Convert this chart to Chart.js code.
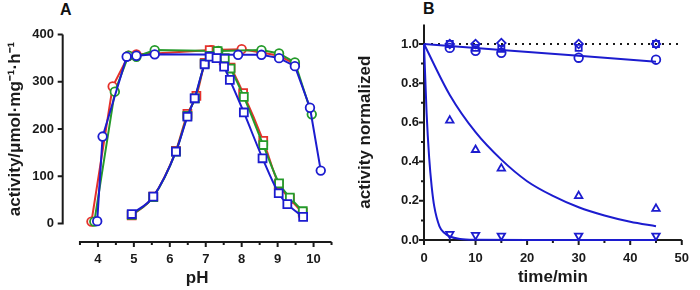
<!DOCTYPE html>
<html>
<head>
<meta charset="utf-8">
<script src="https://cdn.jsdelivr.net/npm/chart.js@4.4.1/dist/chart.umd.min.js"></script>
<style>
  body { margin: 0; background: #fff; width: 700px; height: 290px; position: relative; overflow: hidden;
         font-family: "Liberation Sans", Arial, Helvetica, sans-serif; }
  canvas { position: absolute; top: 0; }
  #chartA { left: 0; }
  #chartB { left: 350px; }
  .panel { position: absolute; font-weight: bold; font-size: 16px; line-height: 16px; color: #111; }
</style>
</head>
<body>
<div class="panel" style="left:60px;top:2px">A</div>
<div class="panel" style="left:423px;top:1px">B</div>
<canvas id="chartA" width="350" height="290"></canvas>
<canvas id="chartB" width="350" height="290"></canvas>
<script>
// ---- panel A: pH profiles ----
const pHTicks = [4, 5, 6, 7, 8, 9, 10];
const actTicks = [0, 100, 200, 300, 400];

const pHRedCircle   = [3.82, 4.41, 4.85, 5.07, 5.58, 7.15, 8.0, 8.55, 9.04, 9.48];
const actRedCircle  = [4, 290, 355, 358, 360, 367, 369, 362, 355, 338];
const pHGreenCircle  = [3.9, 4.47, 4.85, 5.07, 5.58, 7.35, 8.55, 9.04, 9.48, 9.95];
const actGreenCircle = [4, 279, 355, 353, 367, 365, 367, 360, 341, 231];
const pHBlueCircle  = [3.98, 4.13, 4.8, 5.07, 5.58, 7.9, 8.55, 9.04, 9.48, 9.9, 10.2];
const actBlueCircle = [5, 184, 353, 355, 358, 357, 357, 350, 333, 245, 112];

const pHRedSquare   = [4.94, 5.54, 6.17, 6.49, 6.74, 6.97, 7.11, 7.3, 7.5, 7.69, 8.04, 8.6, 9.03, 9.34, 9.7];
const actRedSquare  = [17, 57, 154, 232, 270, 340, 367, 363, 345, 330, 276, 175, 83, 52, 23];
const pHGreenSquare  = [4.94, 5.54, 6.17, 6.49, 6.7, 6.97, 7.11, 7.33, 7.53, 7.69, 8.06, 8.6, 9.04, 9.34, 9.7];
const actGreenSquare = [18, 56, 152, 228, 265, 338, 355, 365, 350, 328, 268, 166, 85, 55, 26];
const pHBlueSquare  = [4.94, 5.54, 6.17, 6.49, 6.69, 6.97, 7.11, 7.3, 7.51, 7.67, 8.06, 8.58, 9.03, 9.27, 9.71];
const actBlueSquare = [20, 57, 152, 226, 265, 337, 353, 350, 332, 304, 235, 138, 64, 41, 14];

// ---- panel B: stability over time ----
const timeTicks = [0, 10, 20, 30, 40, 50];
const normTicks = [0, 0.2, 0.4, 0.6, 0.8, 1.0];
const timePoints = [5, 10, 15, 30, 45];
const normCircle   = [0.98, 0.965, 0.955, 0.93, 0.92];
const normSquare   = [1.0, 0.98, 0.975, 0.98, 1.0];
const normDiamond  = [1.0, 1.0, 1.005, 1.0, 1.0];
const normTriUp    = [0.61, 0.46, 0.365, 0.225, 0.16];
const normTriDown  = [0.03, 0.025, 0.022, 0.022, 0.022];

const fitFlatTime = [0, 15, 30, 45];
const fitFlat     = [1.0, 0.97, 0.94, 0.91];
const fitSlowTime = [0, 5, 10, 15, 20, 25, 30, 35, 40, 45];
const fitSlow     = [1.0, 0.74, 0.55, 0.41, 0.30, 0.225, 0.167, 0.125, 0.093, 0.07];
const fitFastTime = [0, 0.5, 1, 1.5, 2, 3, 4, 5, 7, 10, 20, 45];
const fitFast     = [1.0, 0.65, 0.42, 0.27, 0.17, 0.07, 0.035, 0.018, 0.005, 0.001, 0, 0];
const refTime = [0, 50];
const refLine = [1.0, 1.0];

const RED = "#e5312b", GREEN = "#249a2a", BLUE = "#1c1ccf", INK = "#1a1a1a";
const FONT = '"Liberation Sans", Arial, Helvetica, sans-serif';
Chart.defaults.font.family = FONT;
Chart.defaults.color = INK;

const xy = (xs, ys) => xs.map((x, i) => ({ x: x, y: ys[i] }));

// axis lines and tick marks drawn by hand (panel A has a detached x axis)
const axisLines = {
  id: "axisLines",
  beforeDatasetsDraw(chart, args, o) {
    const { ctx, chartArea, scales: { x, y } } = chart;
    const yx = chartArea.left;
    const xy0 = chartArea.bottom + o.xGap;
    ctx.save();
    ctx.strokeStyle = INK;
    ctx.lineWidth = 2;
    ctx.beginPath();
    ctx.moveTo(yx, y.getPixelForValue(o.yRange[0]) + 1);
    ctx.lineTo(yx, y.getPixelForValue(o.yRange[1]));
    o.yMajor.forEach(v => { const p = y.getPixelForValue(v); ctx.moveTo(yx - o.major, p); ctx.lineTo(yx, p); });
    o.yMinor.forEach(v => { const p = y.getPixelForValue(v); ctx.moveTo(yx - o.minor, p); ctx.lineTo(yx, p); });
    ctx.moveTo(x.getPixelForValue(o.xRange[0]) - 1, xy0);
    ctx.lineTo(x.getPixelForValue(o.xRange[1]), xy0);
    o.xMajor.forEach(v => { const p = x.getPixelForValue(v); ctx.moveTo(p, xy0); ctx.lineTo(p, xy0 + o.major); });
    o.xMinor.forEach(v => { const p = x.getPixelForValue(v); ctx.moveTo(p, xy0); ctx.lineTo(p, xy0 + o.minor); });
    ctx.stroke();
    ctx.restore();
  }
};

function circleSet(xs, ys, color) {
  return { data: xy(xs, ys), showLine: true, borderColor: color, backgroundColor: "#fff",
           borderWidth: 2, pointStyle: "circle", pointRadius: 4.3, pointBorderWidth: 1.8, clip: false };
}
function squareSet(xs, ys, color) {
  return { data: xy(xs, ys), showLine: true, borderColor: color, backgroundColor: "#fff",
           borderWidth: 2, pointStyle: "rect", pointRadius: 5.6, pointBorderWidth: 1.8,
           cubicInterpolationMode: "monotone", clip: false };
}

// Chart.js paints the first dataset last, so blue goes first to sit on top
new Chart(document.getElementById("chartA"), {
  type: "scatter",
  data: {
    datasets: [
      squareSet(pHBlueSquare, actBlueSquare, BLUE),
      circleSet(pHBlueCircle, actBlueCircle, BLUE),
      squareSet(pHGreenSquare, actGreenSquare, GREEN),
      squareSet(pHRedSquare, actRedSquare, RED),
      circleSet(pHGreenCircle, actGreenCircle, GREEN),
      circleSet(pHRedCircle, actRedCircle, RED)
    ]
  },
  options: {
    responsive: false,
    animation: false,
    layout: { padding: { top: 34.5, right: 18, left: 0, bottom: 0 } },
    plugins: {
      legend: { display: false },
      tooltip: { enabled: false },
      axisLines: {
        xGap: 18.5, major: 5, minor: 3,
        yRange: [0, 400], xRange: [3.5, 10.5],
        yMajor: actTicks, yMinor: [],
        xMajor: pHTicks, xMinor: [3.5, 4.5, 5.5, 6.5, 7.5, 8.5, 9.5, 10.5]
      }
    },
    scales: {
      x: {
        type: "linear", min: 3.02, max: 10.5,
        grid: { display: false, drawTicks: false }, border: { display: false },
        afterBuildTicks: s => { s.ticks = pHTicks.map(v => ({ value: v })); },
        afterFit: s => { s.height = 66.5; },
        ticks: { padding: 28, autoSkip: false, maxRotation: 0, font: { size: 13, weight: "bold" } },
        title: { display: true, text: "pH", font: { size: 17, weight: "bold", lineHeight: 1.2 },
                 padding: { top: 0, bottom: 1 } }
      },
      y: {
        min: 0, max: 400,
        grid: { display: false, drawTicks: false }, border: { display: false },
        afterBuildTicks: s => { s.ticks = actTicks.map(v => ({ value: v })); },
        afterFit: s => { s.width = 62.7; },
        ticks: { padding: 8.7, font: { size: 13, weight: "bold" } },
        title: { display: true, text: "activity/\u03bcmol\u00b7mg\u207b\u00b9\u00b7h\u207b\u00b9",
                 font: { size: 17, weight: "bold", lineHeight: 1.2 }, padding: { top: 5, bottom: 0 } }
      }
    }
  },
  plugins: [axisLines]
});

function markSet(ys, style, rotation) {
  return { data: xy(timePoints, ys), showLine: false, borderColor: BLUE, backgroundColor: "rgba(255,255,255,0)",
           pointStyle: style, rotation: rotation || 0, pointRadius: 4.3, pointBorderWidth: 1.8, clip: false };
}
function fitSet(xs, ys) {
  return { data: xy(xs, ys), showLine: true, borderColor: BLUE, borderWidth: 2, pointRadius: 0,
           cubicInterpolationMode: "monotone", clip: false };
}

new Chart(document.getElementById("chartB"), {
  type: "scatter",
  data: {
    datasets: [
      markSet(normTriDown, "triangle", 180),
      markSet(normTriUp, "triangle"),
      markSet(normDiamond, "rectRot"),
      markSet(normSquare, "rect"),
      markSet(normCircle, "circle"),
      fitSet(fitFastTime, fitFast),
      fitSet(fitSlowTime, fitSlow),
      fitSet(fitFlatTime, fitFlat),
      { data: xy(refTime, refLine), showLine: true, borderColor: INK, borderWidth: 2, borderDash: [2, 5],
        pointRadius: 0, clip: false }
    ]
  },
  options: {
    responsive: false,
    animation: false,
    layout: { padding: { top: 24.4, right: 6, left: 0, bottom: 0 } },
    plugins: {
      legend: { display: false },
      tooltip: { enabled: false },
      axisLines: {
        xGap: 0, major: 5, minor: 3,
        yRange: [0, 1.1], xRange: [0, 50],
        yMajor: normTicks, yMinor: [0.1, 0.3, 0.5, 0.7, 0.9],
        xMajor: timeTicks, xMinor: [5, 15, 25, 35, 45]
      }
    },
    scales: {
      x: {
        type: "linear", min: 0, max: 50,
        grid: { display: false, drawTicks: false }, border: { display: false },
        afterBuildTicks: s => { s.ticks = timeTicks.map(v => ({ value: v })); },
        afterFit: s => { s.height = 50; },
        ticks: { padding: 11, autoSkip: false, maxRotation: 0, font: { size: 13, weight: "bold" } },
        title: { display: true, text: "time/min", font: { size: 17, weight: "bold", lineHeight: 1.2 },
                 padding: { top: 0, bottom: 2 } }
      },
      y: {
        min: 0, max: 1.1,
        grid: { display: false, drawTicks: false }, border: { display: false },
        afterBuildTicks: s => { s.ticks = normTicks.map(v => ({ value: v })); },
        afterFit: s => { s.width = 74; },
        ticks: { padding: 5, font: { size: 13, weight: "bold" }, callback: v => v.toFixed(1) },
        title: { display: true, text: "activity normalized",
                 font: { size: 17, weight: "bold", lineHeight: 1.2 }, padding: { top: 5, bottom: 0 } }
      }
    }
  },
  plugins: [axisLines]
});
</script>
</body>
</html>
